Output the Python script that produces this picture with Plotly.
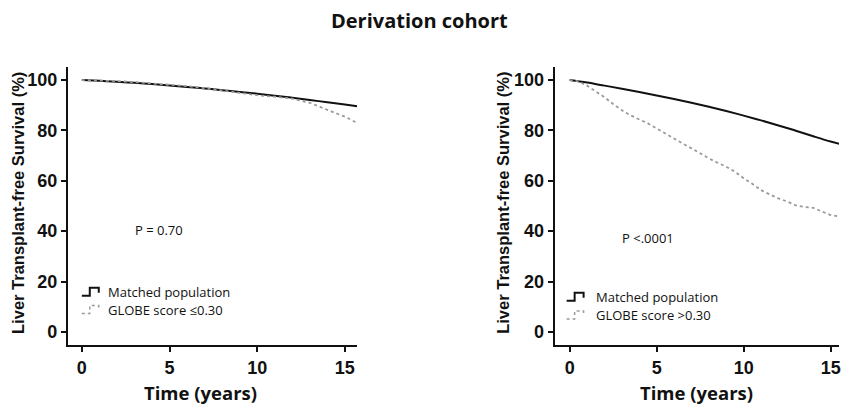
import plotly.graph_objects as go

W, H = 841, 406

# ---------------- data ----------------
left_matched_t = [0, 1, 2, 3, 4, 5, 6, 7, 8, 9, 10, 11, 12, 13, 14, 15, 15.7]
left_matched_s = [100, 99.7, 99.3, 98.9, 98.4, 97.9, 97.3, 96.7, 96.0, 95.3, 94.6, 93.8, 93.0, 92.1, 91.2, 90.3, 89.6]

left_globe_t = [0, 1, 2, 3, 4, 5, 6, 7, 8, 9, 10, 11, 12, 13, 13.5, 14, 14.5, 15, 15.7]
left_globe_s = [100, 99.9, 99.6, 99.2, 98.7, 98.2, 97.6, 96.8, 95.9, 94.8, 94.0, 93.4, 92.6, 91.0, 89.5, 88.0, 86.8, 85.5, 83.0]

right_matched_t = [0, 1, 2, 3, 4, 5, 6, 7, 8, 9, 10, 11, 12, 13, 14, 15, 15.5]
right_matched_s = [100, 99.0, 97.8, 96.6, 95.3, 93.9, 92.5, 91.0, 89.4, 87.7, 85.9, 84.0, 82.0, 79.9, 77.7, 75.6, 74.7]

right_globe_t = [0, 0.5, 1, 1.5, 2, 2.5, 3, 3.5, 4, 4.5, 5, 5.5, 6, 6.5, 7, 7.5, 8, 8.5, 9, 9.5,
                 10, 10.5, 11, 11.5, 12, 12.5, 13, 13.5, 14, 14.5, 15, 15.5]
right_globe_s = [100, 99.5, 97.8, 95.5, 93.2, 90.5, 88.0, 86.0, 84.4, 82.8, 80.8, 78.7, 76.8, 74.8, 72.9, 70.8,
                 68.9, 67.2, 65.6, 63.6, 61.0, 58.8, 56.3, 54.6, 53.0, 51.8, 50.2, 49.6, 49.3, 47.8, 46.4, 45.8]

x_ticks = [0, 5, 10, 15]
y_ticks = [0, 20, 40, 60, 80, 100]

title_text = "Derivation cohort"
y_title = "Liver Transplant-free Survival (%)"
x_title = "Time (years)"
legend_left = ["Matched population", "GLOBE score \u22640.30"]
legend_right = ["Matched population", "GLOBE score >0.30"]
p_left = "P = 0.70"
p_right = "P <.0001"

# ---------------- figure ----------------
def px(x):
    return x / W

def py(y):
    return 1 - y / H

fig = go.Figure()
BLACK = "#111111"
GRAY = "#9a9a9a"

fig.add_trace(go.Scatter(x=left_matched_t, y=left_matched_s, mode="lines", line=dict(color=BLACK, width=2, shape="spline"),
                         xaxis="x", yaxis="y", showlegend=False, hoverinfo="skip"))
fig.add_trace(go.Scatter(x=left_globe_t, y=left_globe_s, mode="lines", line=dict(color=GRAY, width=1.8, dash="dot"),
                         xaxis="x", yaxis="y", showlegend=False, hoverinfo="skip"))
fig.add_trace(go.Scatter(x=right_matched_t, y=right_matched_s, mode="lines", line=dict(color=BLACK, width=2, shape="spline"),
                         xaxis="x2", yaxis="y2", showlegend=False, hoverinfo="skip"))
fig.add_trace(go.Scatter(x=right_globe_t, y=right_globe_s, mode="lines", line=dict(color=GRAY, width=1.8, dash="dot"),
                         xaxis="x2", yaxis="y2", showlegend=False, hoverinfo="skip"))

ydom = [py(345), py(67)]
tickfont = dict(family="Liberation Sans, Arial, sans-serif", size=18, color=BLACK)
common_x = dict(showline=True, linewidth=2, linecolor=BLACK, ticks="outside", ticklen=5, tickwidth=2,
                tickcolor=BLACK, tickvals=x_ticks, ticktext=[f"<b>{v}</b>" for v in x_ticks],
                showgrid=False, zeroline=False, tickfont=tickfont, ticklabeloverflow="allow")
common_y = dict(showline=True, linewidth=2, linecolor=BLACK, ticks="outside", ticklen=5, tickwidth=2,
                tickcolor=BLACK, tickvals=y_ticks, ticktext=[f"<b>{v}</b>" for v in y_ticks],
                showgrid=False, zeroline=False, tickfont=tickfont,
                range=[-5.2, 105.2], domain=ydom)

fig.update_layout(
    width=W, height=H,
    margin=dict(l=0, r=0, t=0, b=0),
    paper_bgcolor="white", plot_bgcolor="white",
    xaxis=dict(domain=[px(68), px(358)], range=[-0.8, 15.7], anchor="y", **common_x),
    yaxis=dict(anchor="x", **common_y),
    xaxis2=dict(domain=[px(556), 1.0], range=[-0.86, 15.48], anchor="y2", **common_x),
    yaxis2=dict(anchor="x2", **common_y),
)

ann = []
ann.append(dict(text=f"<b>{title_text}</b>", x=0.5, y=py(20), xref="paper", yref="paper", showarrow=False,
                font=dict(family="Open Sans, sans-serif", size=20, color=BLACK), xanchor="center", yanchor="middle"))
for cx in (18, 504):
    ann.append(dict(text=f"<b>{y_title}</b>", x=px(cx), y=py(203), xref="paper", yref="paper", showarrow=False,
                    textangle=-90, font=dict(family="Liberation Sans, Arial, sans-serif", size=16.5, color=BLACK),
                    xanchor="center", yanchor="middle"))
for cx in (201, 698):
    ann.append(dict(text=f"<b>{x_title}</b>", x=px(cx), y=py(392), xref="paper", yref="paper", showarrow=False,
                    font=dict(family="Open Sans, sans-serif", size=18.5, color=BLACK), xanchor="center", yanchor="middle"))

lfont = dict(family="Open Sans, sans-serif", size=13, color=BLACK)
ann.append(dict(text=p_left, x=2.9, y=40.5, xref="x", yref="y", showarrow=False, font=lfont, xanchor="left", yanchor="middle"))
ann.append(dict(text=p_right, x=2.9, y=37.3, xref="x2", yref="y2", showarrow=False, font=lfont, xanchor="left", yanchor="middle"))

shapes = []
def glyph(x0, yc, dotted):
    pts = [(x0, yc + 4), (x0 + 8, yc + 4), (x0 + 8, yc - 4), (x0 + 17, yc - 4), (x0 + 17, yc + 1)]
    path = "M " + " L ".join(f"{px(a)},{py(b)}" for a, b in pts)
    return dict(type="path", xref="paper", yref="paper", path=path,
                line=dict(color=GRAY if dotted else BLACK, width=1.5 if dotted else 2, dash="dot" if dotted else "solid"))

for (gx, tx, y1, y2, labels) in [(82, 106, 291.7, 309.5, legend_left), (568, 595, 296.7, 315, legend_right)]:
    shapes.append(glyph(gx, y1, False))
    shapes.append(glyph(gx, y2, True))
    ann.append(dict(text=labels[0], x=px(tx), y=py(y1), xref="paper", yref="paper", showarrow=False, font=lfont,
                    xanchor="left", yanchor="middle"))
    ann.append(dict(text=labels[1], x=px(tx), y=py(y2), xref="paper", yref="paper", showarrow=False, font=lfont,
                    xanchor="left", yanchor="middle"))

fig.update_layout(annotations=ann, shapes=shapes)
fig.write_html("out.html")
